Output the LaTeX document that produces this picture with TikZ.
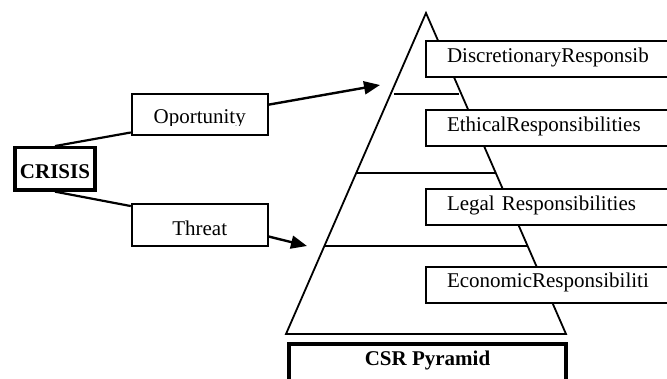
\documentclass[tikz,border=0pt]{standalone}
\usepackage{fontspec}
\setmainfont{Liberation Serif}
\usetikzlibrary{calc,arrows.meta}

\tikzset{
  txt/.style={font=\fontsize{21}{25}\selectfont},
  plainbox/.style={txt, draw, fill=white, line width=1.8pt, rectangle, inner sep=0pt},
  heavybox/.style={txt, draw, fill=white, line width=3.3pt, rectangle, inner sep=0pt, font=\fontsize{21}{25}\selectfont\bfseries},
  tierbox/.style={plainbox, minimum width=274pt, minimum height=36pt,
                  text width=232pt, align=left, inner xsep=21pt,
                  text height=15pt, text depth=9pt},
  link/.style={line width=2.2pt},
  pointer/.style={line width=2.4pt, -{Triangle[length=16pt,width=13pt]}},
  tier/.style={line width=1.8pt},
}

\begin{document}
\begin{tikzpicture}[x=1pt,y=-1pt]
  \clip (0,0) rectangle (667,378);
  \fill[white] (0,0) rectangle (667,378);

  % the pyramid and its tiers
  \coordinate (apex) at (426,13);
  \coordinate (baseL) at (286,334);
  \coordinate (baseR) at (566,334);
  \draw[tier, line join=miter] (apex) -- (baseL) -- (baseR) -- cycle;
  \draw[tier] (394,94) -- (459,94);
  \draw[tier] (357,172.7) -- (495,172.7);
  \draw[tier] (325,246) -- (527,246);

  % responsibility labels beside the tiers
  \node[tierbox] (disc) at (563,59)    {DiscretionaryResponsib};
  \node[tierbox] (eth)  at (563,128)   {EthicalResponsibilities};
  \node[tierbox] (leg)  at (563,207)   {Legal Responsibilities};
  \node[tierbox] (eco)  at (563,284.7) {EconomicResponsibiliti};

  % caption box under the pyramid
  \node[heavybox, minimum width=277pt, minimum height=56pt,
        text height=0pt, text depth=14pt] (csr) at (427.5,372) {CSR Pyramid};

  % crisis and its two readings
  \node[heavybox, minimum width=80pt, minimum height=42.3pt,
        text height=18.3pt, text depth=0pt] (crisis) at (55,168.85) {CRISIS};
  \node[plainbox, minimum width=136pt, minimum height=41pt] (opp) at (199.7,114.5) {};
  \begin{scope}
    \clip (131.7,94) rectangle (267.7,125);
    \node[txt, anchor=base, inner sep=0pt] (opptext) at (199.7,123.3) {Oportunity};
  \end{scope}
  \node[plainbox, minimum width=136pt, minimum height=41.7pt,
        text height=19.6pt, text depth=0pt] (thr) at (199.7,225.2) {Threat};

  % connectors
  \coordinate (tipA) at (380,85);
  \coordinate (tipB) at (307,246);
  \draw[link] (crisis.north) -- ($(opp.south west)!0.08!(opp.north west)$);
  \draw[link] (crisis.south) -- ($(thr.north west)!0.06!(thr.south west)$);
  \draw[pointer] ($(opp.north east)!0.27!(opp.south east)$) -- (tipA);
  \draw[pointer] ($(thr.north east)!0.76!(thr.south east)$) -- (tipB);
\end{tikzpicture}
\end{document}
